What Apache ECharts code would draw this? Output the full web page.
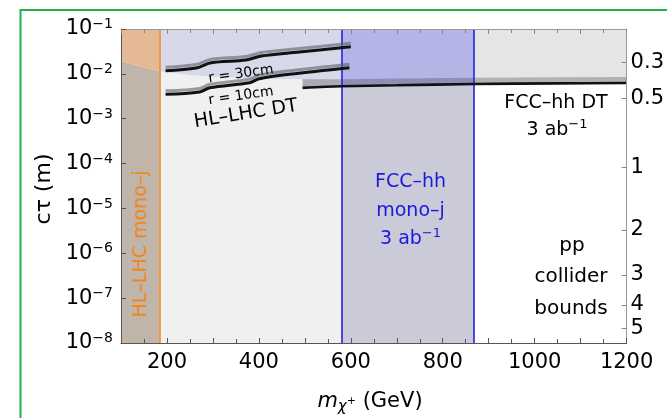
<!DOCTYPE html>
<html>
<head>
<meta charset="utf-8">
<script src="https://cdn.jsdelivr.net/npm/echarts@6/dist/echarts.min.js"></script>
<style>
  html, body { margin: 0; padding: 0; background: #ffffff; }
  #chart { width: 667px; height: 418px; }
</style>
</head>
<body>
<div id="chart"></div>
<script>
// Axis ranges: chargino mass (GeV) and proper decay length c·tau (m)
const massRange = [100, 1200];
const ctauRange = [1e-8, 1e-1];

// Mono-jet reach (GeV)
const hlMonojLimit = 184;
const fccMonojRange = [580, 868];

// HL-LHC disappearing-track region: lower edge of the excluded area [mass, ctau]
const hlDtEdge = [[100, 0.01936], [140, 0.01496], [184, 0.0113], [250, 0.00944],
                  [300, 0.00851], [400, 0.00777], [495, 0.00757]];

// HL-LHC disappearing-track curves for two tracker radii
const hlDt30cm = [[197, 0.01176], [264, 0.01351], [296, 0.01773], [372, 0.02037],
                  [405, 0.02501], [488, 0.03071], [600, 0.04031]];
const hlDt10cm = [[197, 0.00350], [271, 0.00394], [293, 0.00491], [380, 0.00635],
                  [401, 0.00780], [466, 0.00977], [597, 0.01372]];

// FCC-hh disappearing-track reach: line and upper edge of its shaded band
const fccDtLine = [[495, 0.00487], [580, 0.00528], [700, 0.00556], [868, 0.00594],
                   [1050, 0.00612], [1200, 0.00624]];
const fccDtBandTop = [[495, 0.00757], [580, 0.00757], [700, 0.0079], [868, 0.0082],
                      [1050, 0.0084], [1200, 0.0085]];

// Right-hand axis: mass splitting (GeV) and the c·tau it corresponds to
const deltaMLabels = ['0.3', '0.5', '1', '2', '3', '4', '5'];
const deltaMCtau = [0.0181, 0.00285, 8.26e-5, 3.30e-6, 3.28e-7, 7.03e-8, 2.13e-8];

// Mass tick labels on the bottom axis
const massTickLabels = [200, 400, 600, 800, 1000, 1200];

// Shaded zones split at the mono-jet edges; colours above / below the DT edge
const zoneEdges = [massRange[0], hlMonojLimit, fccMonojRange[0], fccMonojRange[1], massRange[1]];
const zoneAbove = ['#e5b996', '#d8d9e8', '#b4b4e6', '#e5e5e5'];
const zoneBelow = ['#c1b4a9', '#f0f0f0', '#cacad8', '#ffffff'];

const FONT = 'DejaVu Sans';

function logInterp(pts, x) {
  for (let i = 0; i < pts.length - 1; i++) {
    const a = pts[i], b = pts[i + 1];
    if (x >= a[0] && x <= b[0] && b[0] > a[0]) {
      const t = (x - a[0]) / (b[0] - a[0]);
      const la = Math.log10(a[1]), lb = Math.log10(b[1]);
      return Math.pow(10, la + t * (lb - la));
    }
  }
  return pts[pts.length - 1][1];
}
function edgeSlice(pts, x0, x1) {
  const inner = pts.filter(p => p[0] > x0 && p[0] < x1);
  return [[x0, logInterp(pts, x0)]].concat(inner, [[x1, logInterp(pts, x1)]]);
}

// Boundary of the region probed by disappearing tracks
const dtEdge = hlDtEdge.concat(fccDtLine);

const polygons = [];
for (let i = 0; i < zoneEdges.length - 1; i++) {
  const x0 = zoneEdges[i], x1 = zoneEdges[i + 1];
  const edge = edgeSlice(dtEdge, x0, x1);
  polygons.push({ pts: edge.concat([[x1, ctauRange[0]], [x0, ctauRange[0]]]), fill: zoneBelow[i] });
  polygons.push({ pts: edge.concat([[x1, ctauRange[1]], [x0, ctauRange[1]]]), fill: zoneAbove[i] });
}
polygons.push({ pts: fccDtBandTop.concat(fccDtLine.slice().reverse()), fill: 'rgba(60,60,68,0.30)' });

const chart = echarts.init(document.getElementById('chart'), null, { renderer: 'canvas' });

const dtLineStyle = {
  color: '#111111', width: 3,
  shadowColor: 'rgba(95,95,108,0.6)', shadowBlur: 0, shadowOffsetY: -3.5
};

chart.setOption({
  animation: false,
  backgroundColor: '#ffffff',
  grid: { left: 121, top: 29, width: 507, height: 314 },
  xAxis: [
    {
      type: 'value', position: 'bottom', min: massRange[0], max: massRange[1], interval: 100, z: 20,
      axisLine: { lineStyle: { color: '#555', width: 1 } },
      axisTick: { inside: true, length: 5, lineStyle: { color: '#555' } },
      minorTick: { show: true, splitNumber: 2, length: 4, lineStyle: { color: '#555' } },
      splitLine: { show: false },
      axisLabel: {
        color: '#000', fontFamily: FONT, fontSize: 21, margin: 9,
        formatter: v => massTickLabels.indexOf(v) >= 0 ? String(v) : ''
      }
    },
    {
      type: 'value', position: 'top', min: massRange[0], max: massRange[1], interval: 100, z: 20,
      axisLine: { lineStyle: { color: '#999', width: 1 } },
      axisTick: { inside: true, length: 5, lineStyle: { color: '#888' } },
      minorTick: { show: true, splitNumber: 2, length: 4, lineStyle: { color: '#888' } },
      splitLine: { show: false },
      axisLabel: { show: false }
    }
  ],
  yAxis: [
    {
      type: 'log', logBase: 10, min: ctauRange[0], max: ctauRange[1], position: 'left', z: 20,
      axisLine: { show: true, lineStyle: { color: '#555', width: 1 } },
      axisTick: { show: true, inside: true, length: 5, lineStyle: { color: '#555' } },
      minorTick: { show: false },
      splitLine: { show: false },
      axisLabel: {
        margin: 8,
        formatter: v => '{b|10}{e|−' + Math.round(-Math.log10(v)) + '}',
        rich: {
          b: { fontFamily: FONT, fontSize: 21, color: '#000' },
          e: { fontFamily: FONT, fontSize: 14, color: '#000', padding: [0, 0, 9, 0] }
        }
      }
    },
    {
      type: 'value', min: Math.log10(ctauRange[0]), max: Math.log10(ctauRange[1]), position: 'right', z: 20,
      axisLine: { show: true, lineStyle: { color: '#999', width: 1 } },
      axisTick: { show: true, inside: true, length: 5, lineStyle: { color: '#888' },
                  customValues: deltaMCtau.map(c => Math.log10(c)) },
      splitLine: { show: false },
      axisLabel: {
        margin: 4, color: '#000', fontFamily: FONT, fontSize: 21,
        customValues: deltaMCtau.map(c => Math.log10(c)),
        formatter: v => {
          let best = 0;
          deltaMCtau.forEach((c, i) => {
            if (Math.abs(Math.log10(c) - v) < Math.abs(Math.log10(deltaMCtau[best]) - v)) best = i;
          });
          return deltaMLabels[best];
        }
      }
    }
  ],
  series: [
    {
      name: 'regions', type: 'custom', xAxisIndex: 0, yAxisIndex: 0, z: 1, silent: true, clip: true,
      data: polygons.map(p => [p.pts[0][0], p.pts[0][1]]),
      encode: { x: 0, y: 1 },
      renderItem: (params, api) => {
        const poly = polygons[params.dataIndex];
        return {
          type: 'polygon',
          shape: { points: poly.pts.map(p => api.coord(p)) },
          style: { fill: poly.fill, stroke: null }
        };
      }
    },
    {
      name: 'FCC-hh DT', type: 'line', xAxisIndex: 0, yAxisIndex: 0, z: 5, silent: true,
      data: fccDtLine, smooth: 0.3, showSymbol: false, symbol: 'none',
      lineStyle: { color: '#111111', width: 2.6 },
      markLine: {
        silent: true, symbol: ['none', 'none'], label: { show: false }, z: 4,
        data: [
          { xAxis: hlMonojLimit, lineStyle: { color: '#f18a22', width: 1.6, type: 'solid' } },
          { xAxis: fccMonojRange[0], lineStyle: { color: '#2424e0', width: 1.6, type: 'solid' } },
          { xAxis: fccMonojRange[1], lineStyle: { color: '#2424e0', width: 1.6, type: 'solid' } }
        ]
      }
    },
    {
      name: 'r = 30cm', type: 'line', xAxisIndex: 0, yAxisIndex: 0, z: 6, silent: true,
      data: hlDt30cm, smooth: 0.35, showSymbol: false, symbol: 'none', lineStyle: dtLineStyle
    },
    {
      name: 'r = 10cm', type: 'line', xAxisIndex: 0, yAxisIndex: 0, z: 6, silent: true,
      data: hlDt10cm, smooth: 0.35, showSymbol: false, symbol: 'none', lineStyle: dtLineStyle
    }
  ],
  graphic: [
    { type: 'rect', z: 100, silent: true, shape: { x: 20.5, y: 10, width: 700, height: 500 },
      style: { fill: 'none', stroke: '#21b24b', lineWidth: 2 } },
    { type: 'text', z: 100, x: 44, y: 189, rotation: Math.PI / 2,
      style: { text: 'cτ (m)', font: '22px "DejaVu Sans"', fill: '#000', align: 'center', verticalAlign: 'middle' } },
    { type: 'text', z: 100, x: 370, y: 402,
      style: {
        text: '{i|m}{s|χ}{p|+}{n| (GeV)}', align: 'center', verticalAlign: 'middle',
        rich: {
          i: { fontFamily: FONT, fontSize: 21, fontStyle: 'italic', fill: '#000' },
          s: { fontFamily: FONT, fontSize: 15, fontStyle: 'italic', fill: '#000', padding: [10, 0, 0, 0] },
          p: { fontFamily: FONT, fontSize: 11, fill: '#000', padding: [0, 0, 2, 0] },
          n: { fontFamily: FONT, fontSize: 21, fill: '#000' }
        }
      } },
    { type: 'text', z: 100, x: 141.5, y: 244, rotation: Math.PI / 2,
      style: { text: 'HL–LHC mono–j', font: '19px "DejaVu Sans"', fill: '#f0861c', align: 'center', verticalAlign: 'middle' } },
    { type: 'text', z: 100, x: 241, y: 74, rotation: 0.14,
      style: { text: 'r = 30cm', font: '14px "DejaVu Sans"', fill: '#000', align: 'center', verticalAlign: 'middle' } },
    { type: 'text', z: 100, x: 241, y: 96, rotation: 0.14,
      style: { text: 'r = 10cm', font: '14px "DejaVu Sans"', fill: '#000', align: 'center', verticalAlign: 'middle' } },
    { type: 'text', z: 100, x: 246, y: 114, rotation: 0.16,
      style: { text: 'HL–LHC DT', font: '19px "DejaVu Sans"', fill: '#000', align: 'center', verticalAlign: 'middle' } },
    { type: 'text', z: 100, x: 556, y: 103,
      style: { text: 'FCC–hh DT', font: '19px "DejaVu Sans"', fill: '#000', align: 'center', verticalAlign: 'middle' } },
    { type: 'text', z: 100, x: 557, y: 130,
      style: {
        text: '{a|3 ab}{e|−1}', align: 'center', verticalAlign: 'middle',
        rich: {
          a: { fontFamily: FONT, fontSize: 19, fill: '#000' },
          e: { fontFamily: FONT, fontSize: 13, fill: '#000', padding: [0, 0, 11, 0] }
        }
      } },
    { type: 'text', z: 100, x: 410.5, y: 182.5,
      style: { text: 'FCC–hh', font: '19px "DejaVu Sans"', fill: '#1a1ade', align: 'center', verticalAlign: 'middle' } },
    { type: 'text', z: 100, x: 410.5, y: 211,
      style: { text: 'mono–j', font: '19px "DejaVu Sans"', fill: '#1a1ade', align: 'center', verticalAlign: 'middle' } },
    { type: 'text', z: 100, x: 410.5, y: 239,
      style: {
        text: '{a|3 ab}{e|−1}', align: 'center', verticalAlign: 'middle',
        rich: {
          a: { fontFamily: FONT, fontSize: 19, fill: '#1a1ade' },
          e: { fontFamily: FONT, fontSize: 13, fill: '#1a1ade', padding: [0, 0, 11, 0] }
        }
      } },
    { type: 'text', z: 100, x: 572, y: 246,
      style: { text: 'pp', font: '20px "DejaVu Sans"', fill: '#000', align: 'center', verticalAlign: 'middle' } },
    { type: 'text', z: 100, x: 571, y: 277,
      style: { text: 'collider', font: '20px "DejaVu Sans"', fill: '#000', align: 'center', verticalAlign: 'middle' } },
    { type: 'text', z: 100, x: 571, y: 309,
      style: { text: 'bounds', font: '20px "DejaVu Sans"', fill: '#000', align: 'center', verticalAlign: 'middle' } }
  ]
});
</script>
</body>
</html>
